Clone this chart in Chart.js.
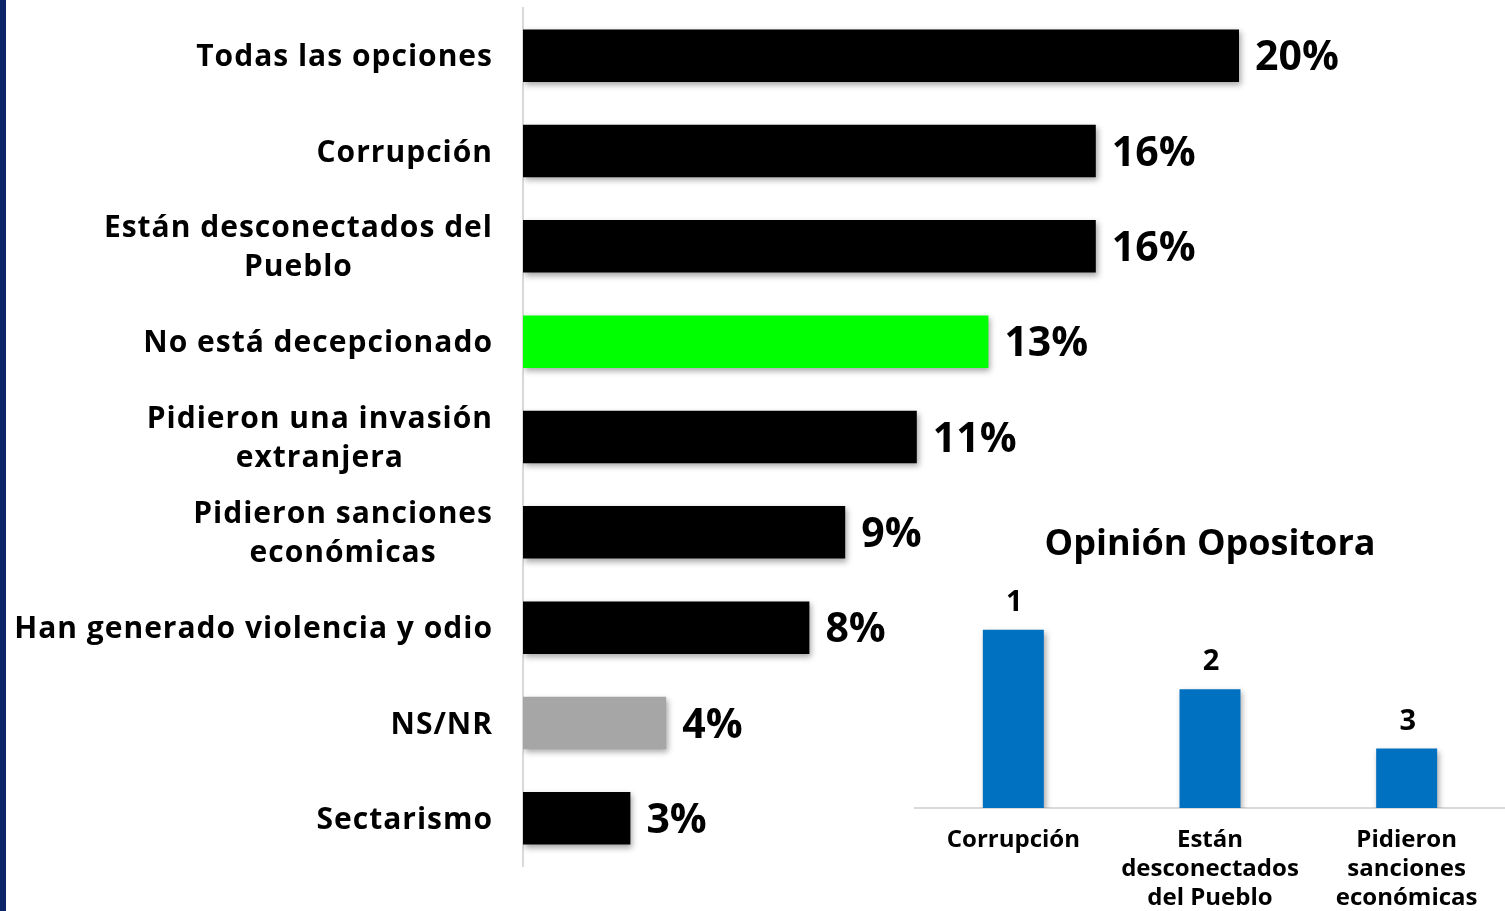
<!DOCTYPE html>
<html lang="es">
<head>
<meta charset="utf-8">
<title>Decepción</title>
<script src="https://cdn.jsdelivr.net/npm/chart.js@4.4.1/dist/chart.umd.min.js"></script>
<style>
  html, body { margin: 0; padding: 0; background: #fff; }
  body { width: 1505px; height: 911px; position: relative; overflow: hidden; }
  .franja { position: absolute; left: 0; top: 0; width: 6px; height: 911px; background: #0b2566; }
  #mainChart { position: absolute; left: 0; top: 0; }
  #rankChart { position: absolute; left: 905px; top: 505px; }
</style>
</head>
<body>
<div class="franja"></div>
<canvas id="mainChart" width="1505" height="911"></canvas>
<canvas id="rankChart" width="600" height="406"></canvas>
<script>
// Razones de decepción (porcentajes)
const razones = [
  ['Todas las opciones'],
  ['Corrupción'],
  ['Están desconectados del', 'Pueblo'],
  ['No está decepcionado'],
  ['Pidieron una invasión', 'extranjera'],
  ['Pidieron sanciones', 'económicas'],
  ['Han generado violencia y odio'],
  ['NS/NR'],
  ['Sectarismo']
];
const porcentajes = [20, 16, 16, 13, 11, 9, 8, 4, 3];
const coloresBarra = ['#000000', '#000000', '#000000', '#00ff00', '#000000', '#000000', '#000000', '#a6a6a6', '#000000'];

// Opinión opositora: orden de importancia
const temasOpositores = [['Corrupción'], ['Están', 'desconectados', 'del Pueblo'], ['Pidieron', 'sanciones', 'económicas']];
const pesoOpositor = [3, 2, 1];
const puesto = [1, 2, 3];

const FUENTE = '"Open Sans", Lato, sans-serif';

// sombra suave bajo las barras
const sombra = {
  id: 'sombra',
  beforeDatasetsDraw(chart) {
    const c = chart.ctx;
    c.save();
    c.shadowColor = 'rgba(0,0,0,0.35)';
    c.shadowBlur = 6;
    c.shadowOffsetX = 2;
    c.shadowOffsetY = 3;
  },
  afterDatasetsDraw(chart) {
    chart.ctx.restore();
  }
};

// etiquetas de categoría: bloque alineado a la derecha, líneas centradas entre sí
const etiquetasCategoria = {
  id: 'etiquetasCategoria',
  afterDraw(chart) {
    const c = chart.ctx;
    const yScale = chart.scales.y;
    const derecha = 493;
    const alto = 39;
    c.save();
    c.font = 'bold 30px ' + FUENTE;
    c.letterSpacing = '1px';
    c.fillStyle = '#000';
    c.textAlign = 'center';
    c.textBaseline = 'middle';
    razones.forEach((lineas, i) => {
      const ancho = Math.max(...lineas.map(l => c.measureText(l).width));
      const cx = derecha - ancho / 2;
      const yc = yScale.getPixelForValue(i) + 2;
      const y0 = yc - (lineas.length - 1) * alto / 2;
      lineas.forEach((l, k) => c.fillText(l, cx, y0 + k * alto));
    });
    c.restore();
  }
};

// porcentaje al final de cada barra
const valoresBarra = {
  id: 'valoresBarra',
  afterDatasetsDraw(chart) {
    const c = chart.ctx;
    const meta = chart.getDatasetMeta(0);
    c.save();
    c.font = 'bold 41px ' + FUENTE;
    c.fillStyle = '#000';
    c.textAlign = 'left';
    c.textBaseline = 'middle';
    meta.data.forEach((bar, i) => {
      c.fillText(porcentajes[i] + '%', bar.x + 16, bar.y + 3);
    });
    c.restore();
  }
};

new Chart(document.getElementById('mainChart'), {
  type: 'bar',
  data: {
    labels: razones.map(r => r.join(' ')),
    datasets: [{
      data: porcentajes,
      backgroundColor: coloresBarra,
      borderWidth: 0,
      categoryPercentage: 1,
      barPercentage: 0.55
    }]
  },
  options: {
    indexAxis: 'y',
    responsive: false,
    animation: false,
    layout: { padding: { top: 8, bottom: 45, left: 0, right: 87 } },
    scales: {
      x: { display: false, min: 0, max: 25 },
      y: {
        grid: { display: false, drawTicks: false },
        border: { display: true, color: '#d9d9d9', width: 2 },
        ticks: { display: false },
        afterFit(scale) { scale.width = 523; }
      }
    },
    plugins: { legend: { display: false }, tooltip: { enabled: false } }
  },
  plugins: [sombra, valoresBarra, etiquetasCategoria]
});

// número de puesto encima de cada barra
const puestos = {
  id: 'puestos',
  afterDatasetsDraw(chart) {
    const c = chart.ctx;
    const meta = chart.getDatasetMeta(0);
    c.save();
    c.font = 'bold 29px ' + FUENTE;
    c.fillStyle = '#000';
    c.textAlign = 'center';
    c.textBaseline = 'middle';
    meta.data.forEach((bar, i) => c.fillText(String(puesto[i]), bar.x + 1, bar.y - 27));
    c.restore();
  }
};

new Chart(document.getElementById('rankChart'), {
  type: 'bar',
  data: {
    labels: temasOpositores,
    datasets: [{
      data: pesoOpositor,
      backgroundColor: '#0070c0',
      borderWidth: 0,
      categoryPercentage: 1,
      barPercentage: 0.31
    }]
  },
  options: {
    responsive: false,
    animation: false,
    layout: { padding: { left: 10, right: 0, top: 0, bottom: 0 } },
    scales: {
      x: {
        grid: { display: false, drawTicks: false },
        border: { display: true, color: '#d9d9d9', width: 2 },
        ticks: { color: '#000', font: { family: FUENTE, size: 24, weight: 'bold', lineHeight: 1.2 }, padding: 18, maxRotation: 0 },
        afterFit(scale) { scale.height = 103; }
      },
      y: { display: false, min: 0, max: 3.6 }
    },
    plugins: {
      legend: { display: false },
      tooltip: { enabled: false },
      title: {
        display: true,
        text: 'Opinión Opositora',
        color: '#000',
        font: { family: FUENTE, size: 36, weight: 'bold', lineHeight: 1.2 },
        padding: { top: 18, bottom: 28 }
      }
    }
  },
  plugins: [sombra, puestos]
});
</script>
</body>
</html>
